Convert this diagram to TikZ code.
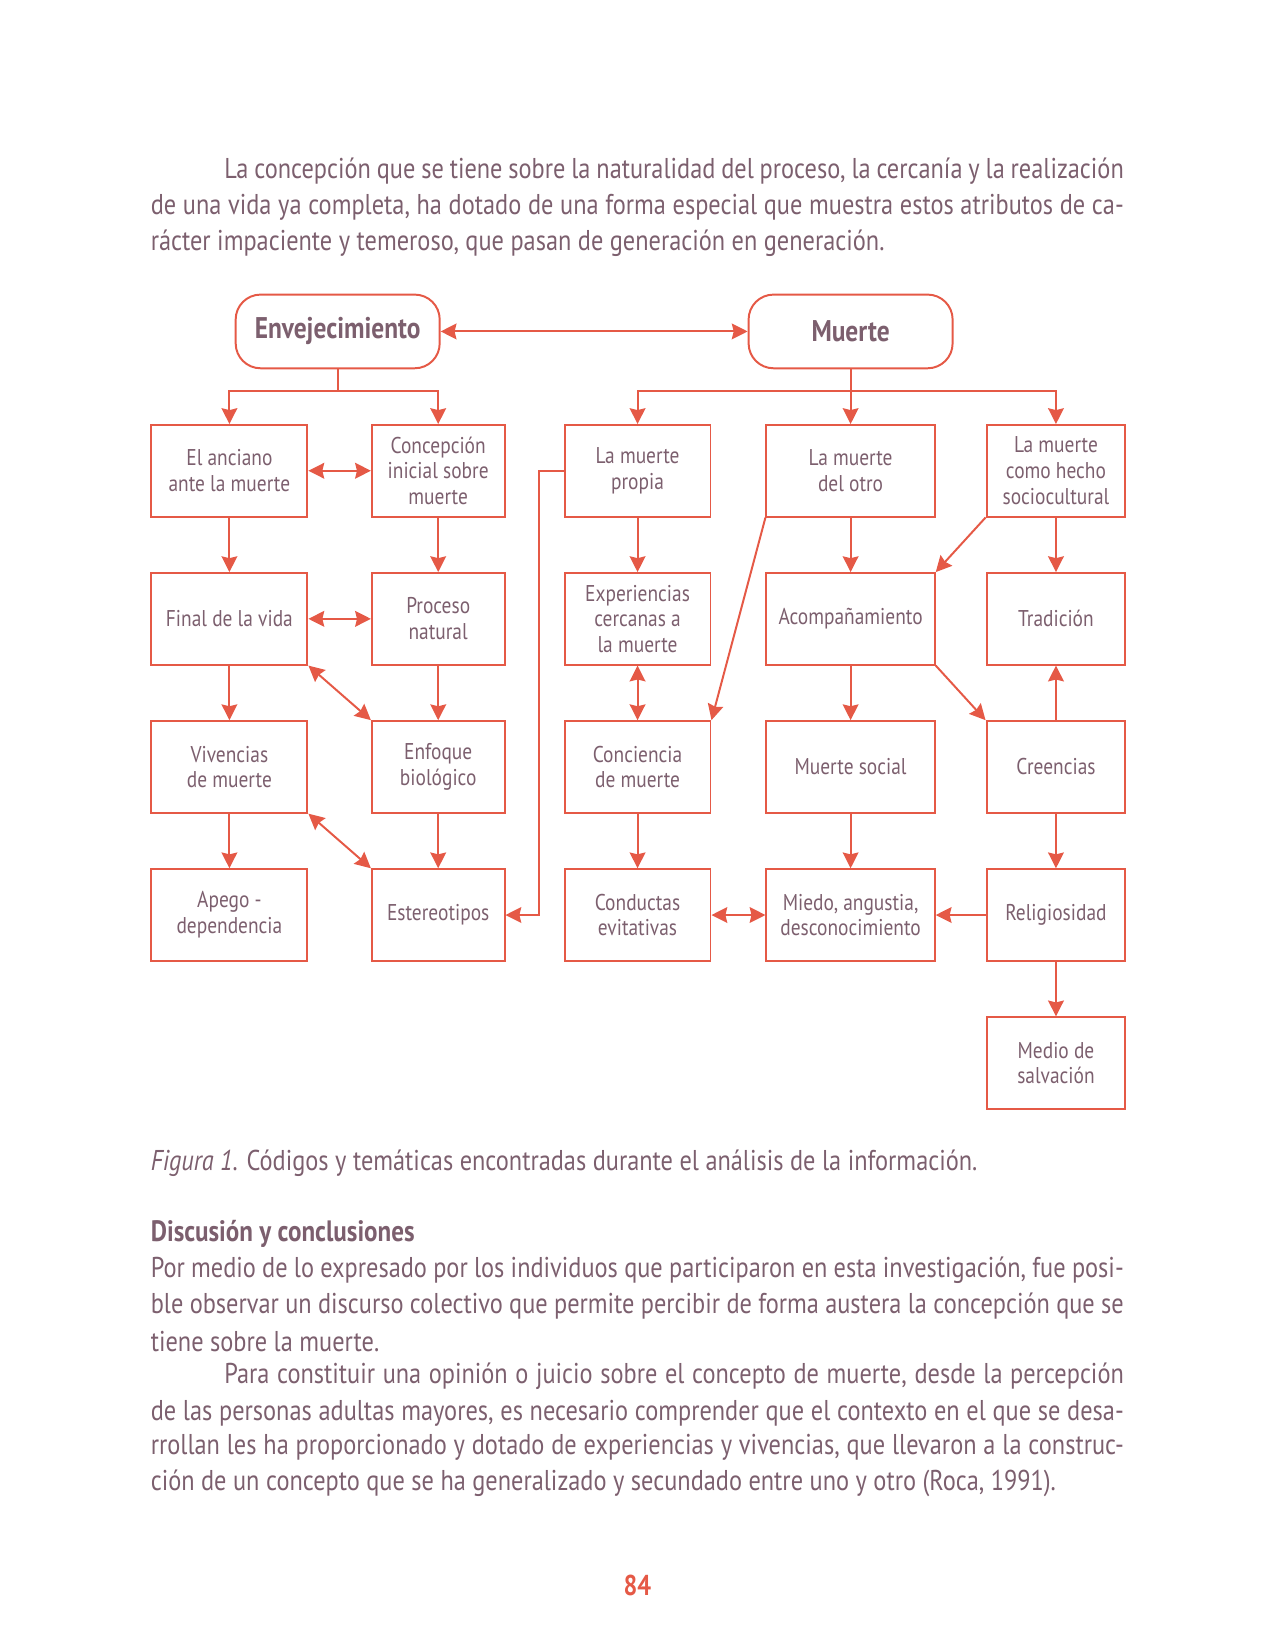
\documentclass[tikz,border=0pt]{standalone}
\usepackage{fontspec}
\setmainfont[FakeStretch=0.85]{PT Sans}
\usetikzlibrary{arrows.meta}
\usetikzlibrary{positioning}
\definecolor{coral}{RGB}{229,89,70}
\definecolor{mauve}{RGB}{124,95,110}
\newcommand\bodyfont{\fontsize{13.8}{17}\selectfont}
\newcommand\boxfont{\fontsize{11}{12.4}\selectfont}
\newcommand\themefont{\fontsize{14.4}{16}\selectfont\bfseries}
\newlength\linew
\setlength\linew{468.8pt}
\newcommand\jline[2][\linew]{\makebox[#1][s]{#2}}
\tikzset{
semithick, % thin lines everywhere
codetip/.tip={Stealth[length=7.6pt,width=7.6pt,inset=0.9pt]}, % filled tips
code/.style={draw=coral,line width=0.95pt,rectangle,minimum height=44.1pt,align=center,text=mauve,font=\boxfont,inner sep=1pt},
w1/.style={minimum width=75.2pt},
w2/.style={minimum width=63.9pt},
w3/.style={minimum width=70.3pt},
w4/.style={minimum width=81.1pt},
w5/.style={minimum width=66.9pt},
theme/.style={draw=coral,line width=0.95pt,rounded corners=12pt,minimum width=98.3pt,minimum height=35.5pt,text=mauve,font=\themefont},
flow/.style={color=coral,line width=0.95pt,-codetip},
both/.style={codetip-codetip},
textline/.style={anchor=west,inner sep=0pt,text=mauve,font=\bodyfont}
}

\begin{document}
\begin{tikzpicture}[x=1pt,y=1pt]
\useasboundingbox (0,0) rectangle (614.3,795);
% text above the figure
\node[textline] (p1) at (107.9,712.3) {\jline[433.4pt]{La concepción que se tiene sobre la naturalidad del proceso, la cercanía y la realización}};
\node[textline] (p2) at (72.46,695.1) {\jline{de una vida ya completa, ha dotado de una forma especial que muestra estos atributos de ca-}};
\node[textline] (p3) at (72.46,677.8) {rácter impaciente y temeroso, que pasan de generación en generación.};
% codes
\matrix[matrix anchor=11.north west,column sep=24pt,row sep=26.3pt,every node/.style={code}] at (72.46,590.7) {
  \node[w1] (11) {El anciano\\ante la muerte}; &[6.1pt] \node[w2] (12) {Concepción\\inicial sobre\\muerte}; &[4pt] \node[w3] (13) {La muerte\\propia}; &[2pt] \node[w4] (14) {La muerte\\del otro}; & \node[w5] (15) {La muerte\\como hecho\\sociocultural}; \\
  \node[w1] (21) {Final de la vida}; & \node[w2] (22) {Proceso\\natural}; & \node[w3] (23) {Experiencias\\cercanas a\\la muerte}; & \node[w4] (24) {Acompañamiento}; & \node[w5] (25) {Tradición}; \\
  \node[w1] (31) {Vivencias\\de muerte}; & \node[w2] (32) {Enfoque\\biológico}; & \node[w3] (33) {Conciencia\\de muerte}; & \node[w4] (34) {Muerte social}; & \node[w5] (35) {Creencias}; \\
  \node[w1] (41) {Apego -\\dependencia}; & \node[w2] (42) {Estereotipos}; & \node[w3] (43) {Conductas\\evitativas}; & \node[w4] (44) {Miedo, angustia,\\desconocimiento}; & \node[w5] (45) {Religiosidad}; \\
  & & & & \node[w5] (55) {Medio de\\salvación}; \\
};
\node[theme] (env) at (162.7,635.3) {Envejecimiento};
\node[theme] (muerte) at (14 |- env) {Muerte};
\draw[flow,both] (env) -- (muerte);
\draw[flow] (env.south) -- ++(0,-10.5pt) -| (11);
\draw[flow] (env.south) -- ++(0,-10.5pt) -| (12);
\draw[flow] (muerte) -- (14);
\draw[flow] (muerte.south) -- ++(0,-10.5pt) -| (13);
\draw[flow] (muerte.south) -- ++(0,-10.5pt) -| (15);
\draw[flow] (13.west) -- ++(-11.7pt,0) |- (42);
\path[flow]
  (11) edge (21) edge[both] (12)
  (12) edge (22)
  (21) edge (31) edge[both] (22)
  (22) edge (32)
  (21.south east) edge[both] (32.north west)
  (31) edge (41)
  (31.south east) edge[both] (42.north west)
  (32) edge (42)
  (13) edge (23)
  (23) edge[both] (33)
  (33) edge (43)
  (43) edge[both] (44)
  (14) edge (24)
  (14.south west) edge (33.north east)
  (24) edge (34)
  (24.south east) edge (35.north west)
  (34) edge (44)
  (15) edge (25)
  (15.south west) edge (24.north east)
  (35) edge (25) edge (45)
  (45) edge (44) edge (55);
% caption and text below
\node[textline] (cap) at (72.46,234.5) {\textit{Figura 1.} Códigos y temáticas encontradas durante el análisis de la información.};
\node[textline,font=\fontsize{14.2}{17}\selectfont\bfseries] (head) at (72.46,200.3) {Discusión y conclusiones};
\node[textline] (q1) at (72.46,183.2) {\jline{Por medio de lo expresado por los individuos que participaron en esta investigación, fue posi-}};
\node[textline] (q2) at (72.46,165.9) {\jline{ble observar un discurso colectivo que permite percibir de forma austera la concepción que se}};
\node[textline] (q3) at (72.46,148.7) {tiene sobre la muerte.};
\node[textline] (q4) at (107.9,132.0) {\jline[433.4pt]{Para constituir una opinión o juicio sobre el concepto de muerte, desde la percepción}};
\node[textline] (q5) at (72.46,114.2) {\jline{de las personas adultas mayores, es necesario comprender que el contexto en el que se desa-}};
\node[textline] (q6) at (72.46,97.5) {\jline{rrollan les ha proporcionado y dotado de experiencias y vivencias, que llevaron a la construc-}};
\node[textline] (q7) at (72.46,80.3) {ción de un concepto que se ha generalizado y secundado entre uno y otro (Roca, 1991).};
\node[font=\bodyfont\bfseries,text=coral] (pag) at (307.1,31.3) {84};
\end{tikzpicture}
\end{document}
